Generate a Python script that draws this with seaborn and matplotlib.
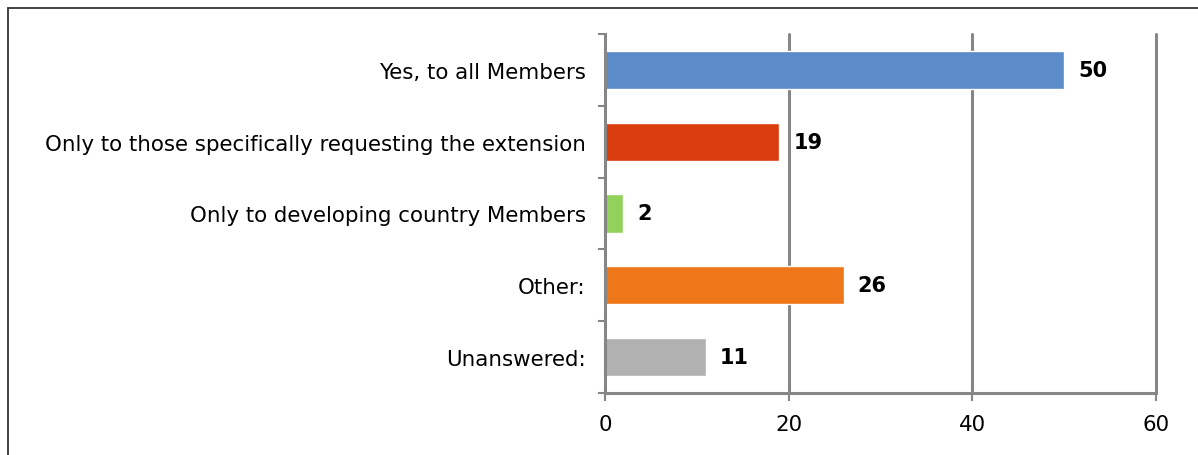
import matplotlib
matplotlib.use("Agg")
import matplotlib.pyplot as plt
from matplotlib.patches import Rectangle
import seaborn as sns
import pandas as pd

categories = [
    "Yes, to all Members",
    "Only to those specifically requesting the extension",
    "Only to developing country Members",
    "Other:",
    "Unanswered:",
]
counts = [50, 19, 2, 26, 11]
bar_colors = ["#5B8BC9", "#D93D0D", "#92D25A", "#EE7719", "#B1B1B1"]
x_ticks = [0, 20, 40, 60]

sns.set_theme(style="white")
plt.rcParams["font.family"] = ["DejaVu Sans"]

df = pd.DataFrame({"category": categories, "count": counts})

fig = plt.figure(figsize=(11.98, 4.56), dpi=100)
ax = fig.add_axes([605 / 1198, 1 - 394 / 456, (1156 - 605) / 1198, (394 - 35) / 456])

sns.barplot(data=df, y="category", x="count", hue="category",
            palette=bar_colors, order=categories, hue_order=categories,
            orient="h", width=0.53, legend=False, ax=ax, saturation=1)

grid_c = "#868686"
ax.set_xlim(0, 60)
ax.set_ylim(4.5, -0.5)
ax.set_xticks(x_ticks)
ax.set_xticklabels([str(v) for v in x_ticks], fontsize=15.4, color="black")
for v in x_ticks[1:]:
    ax.axvline(v, color=grid_c, lw=2.2, zorder=0, clip_on=False)

ax.set_yticks(range(len(categories)))
ax.set_yticklabels(categories, fontsize=15.4, color="black")
ax.set_yticks([i - 0.5 for i in range(len(categories) + 1)], minor=True)
ax.tick_params(axis="y", which="both", left=True)
ax.tick_params(axis="x", which="both", bottom=True)
ax.tick_params(axis="y", which="major", length=0, pad=14)
ax.tick_params(axis="y", which="minor", length=5, width=1.5, color=grid_c, direction="out")
ax.tick_params(axis="x", which="major", length=6, width=1.5, color=grid_c, direction="out", pad=9)
ax.set_xlabel("")
ax.set_ylabel("")

for side in ["top", "right"]:
    ax.spines[side].set_visible(False)
for side in ["left", "bottom"]:
    ax.spines[side].set_color(grid_c)
    ax.spines[side].set_linewidth(2.2)

for i, v in enumerate(counts):
    ax.text(v + 1.5, i, str(v), va="center", ha="left", fontsize=15,
            fontweight="bold", color="black")

# outer frame around the chart area
fig.patches.append(Rectangle((8 / 1198, -0.1), 1.2, 1 - 9 / 456 + 0.1,
                             transform=fig.transFigure, fill=False,
                             edgecolor="#333333", lw=1.3))

fig.savefig("out.png", dpi=100, facecolor="white")
